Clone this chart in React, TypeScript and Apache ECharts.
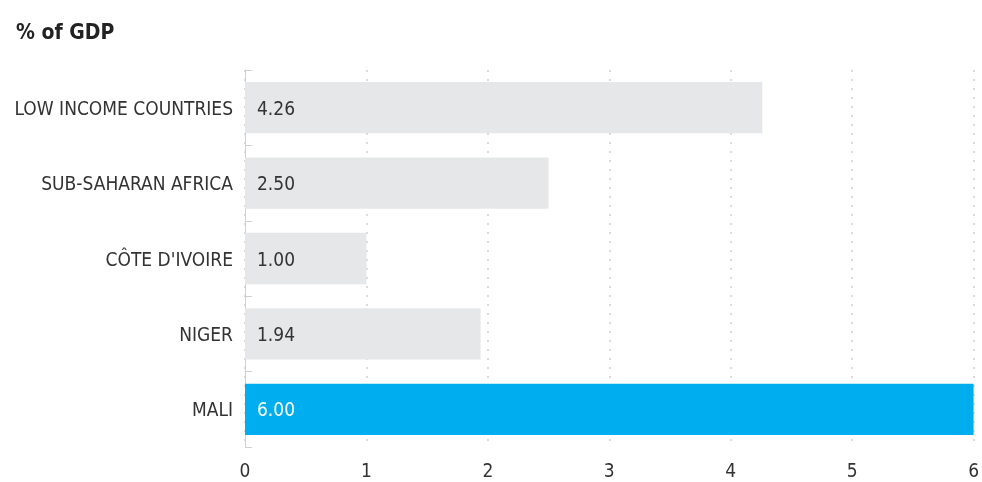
import React, { useEffect, useRef } from "react";
import * as echarts from "echarts";

const categories = ["LOW INCOME COUNTRIES", "SUB-SAHARAN AFRICA", "CÔTE D'IVOIRE", "NIGER", "MALI"];
const values = [4.26, 2.5, 1.0, 1.94, 6.0];
const barColors = ["#e6e7e8", "#e6e7e8", "#e6e7e8", "#e6e7e8", "#00aeef"];
const labelColors = ["#333333", "#333333", "#333333", "#333333", "#ffffff"];
const title = "% of GDP";

const FONT = "'Liberation Sans Narrow', 'DejaVu Sans Condensed', sans-serif";

export default function App() {
  const ref = useRef<HTMLDivElement>(null);
  useEffect(() => {
    if (!ref.current) return;
    const chart = echarts.init(ref.current, undefined, { renderer: "svg" });
    chart.setOption({
      animation: false,
      title: {
        text: title,
        left: 11,
        top: 16,
        textStyle: { fontFamily: FONT, fontSize: 21, fontWeight: "bold", color: "#222" },
      },
      grid: { left: 245, right: 5, top: 70, bottom: 35, containLabel: false },
      xAxis: {
        type: "value",
        min: 0,
        max: 6,
        interval: 1,
        axisLine: { show: false },
        axisTick: { show: false },
        axisLabel: { fontFamily: FONT, fontSize: 19, color: "#333", margin: 13 },
        splitLine: { show: true, lineStyle: { color: "#cfcfcf", type: [2, 7], width: 1.5 } },
      },
      yAxis: {
        type: "category",
        inverse: true,
        data: categories,
        axisLine: { show: true, lineStyle: { color: "#cfcfcf", width: 1 } },
        axisTick: { show: true, inside: true, length: 7, lineStyle: { color: "#cfcfcf" } },
        axisLabel: { fontFamily: FONT, fontSize: 19, color: "#333", margin: 12 },
      },
      series: [
        {
          type: "bar",
          barWidth: "68%",
          data: values.map((v, i) => ({
            value: v,
            itemStyle: { color: barColors[i] },
            label: { color: labelColors[i] },
          })),
          label: {
            show: true,
            position: "insideLeft",
            offset: [7, 0],
            fontFamily: FONT,
            fontSize: 19,
            formatter: (p: any) => Number(p.value).toFixed(2),
          },
        },
      ],
    });
    return () => chart.dispose();
  }, []);
  return (
    <div
      ref={ref}
      style={{ position: "fixed", left: 0, top: 0, width: 982, height: 482 }}
    />
  );
}
